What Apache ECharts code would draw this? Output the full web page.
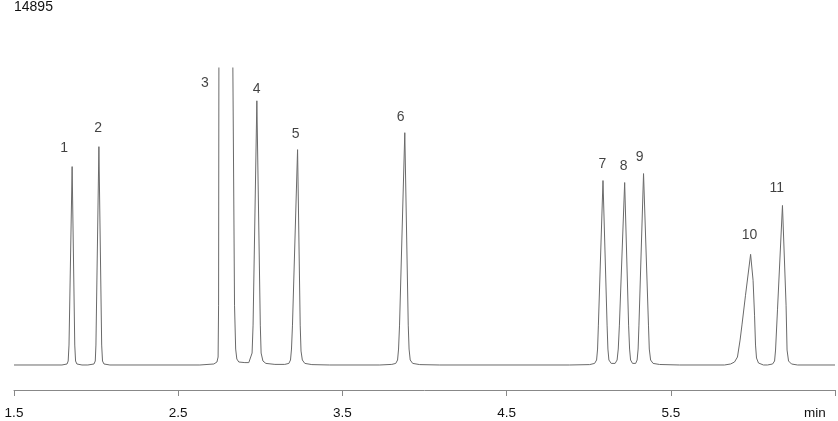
<!DOCTYPE html>
<html>
<head>
<meta charset="utf-8">
<script src="https://cdn.jsdelivr.net/npm/echarts@6/dist/echarts.min.js"></script>
<style>
html,body{margin:0;padding:0;background:#fff;}
#chart{width:838px;height:421px;}
</style>
</head>
<body>
<div id="chart"></div>
<script>
// Retention time axis (min)
const traceTime = [
  1.500,
  1.792,1.823,1.830,1.835,1.854,1.870,1.875,1.883,1.914,
  1.950,1.987,1.995,1.999,2.017,2.034,2.039,2.048,2.084,
  2.632,2.717,2.736,2.743,2.746,2.748,2.790,2.832,2.843,2.850,2.857,2.869,2.906,
  2.930,2.942,2.950,2.956,2.979,3.000,3.005,3.016,3.034,3.089,
  3.149,3.174,3.184,3.190,3.196,3.227,3.243,3.248,3.256,3.271,3.314,3.423,
  3.728,3.801,3.825,3.836,3.842,3.848,3.880,3.901,3.906,3.913,3.928,3.971,4.093,
  4.884,5.006,5.036,5.048,5.054,5.059,5.087,5.112,5.117,5.123,5.137,5.149,
  5.161,5.173,5.180,5.187,5.219,5.243,5.249,5.255,5.267,5.277,
  5.286,5.295,5.301,5.306,5.334,5.364,5.369,5.377,5.392,5.432,5.554,
  5.827,5.864,5.888,5.906,5.922,5.934,5.955,5.986,6.001,6.010,6.016,6.022,6.034,6.064,
  6.089,6.120,6.132,6.138,6.150,6.180,6.202,6.208,6.217,6.235,6.272,
  6.500
];
// Detector signal
const traceSignal = [
  0,
  0,50,200,1000,9950,1000,200,50,0,
  0,50,200,1000,10950,1000,200,50,0,
  0,50,150,400,3000,16000,60000,16000,3000,800,300,150,120,
  120,200,600,2000,13250,2000,600,200,80,30,
  30,80,250,800,2000,10800,2000,700,250,80,20,0,
  0,30,80,250,800,2000,11650,2000,800,250,80,20,0,
  0,20,80,250,800,2000,9250,2000,800,250,80,40,
  80,250,800,2000,9150,2000,800,250,80,50,
  80,250,800,2000,9600,2000,800,250,80,25,0,
  0,50,150,400,1250,2050,3500,5550,4250,2500,1000,350,100,0,
  0,50,200,750,2800,8000,3000,750,200,50,0,
  0
];
// Peak labels
const peakNames  = ['1','2','3','4','5','6','7','8','9','10','11'];
const labelTime  = [1.806,2.013,2.663,2.977,3.216,3.854,5.083,5.213,5.310,5.980,6.146];
const labelSignal= [10870,11870,14130,13830,11590,12450,10080,9980,10420,6520,8860];
// Axis
const xMin = 1.5, xMax = 6.5, xStep = 1;
const yMin = -1254, yMax = 14895;
const yMaxLabel = '14895';
const xUnit = 'min';

const trace = traceTime.map((t, i) => [t, traceSignal[i]]);
const labels = labelTime.map((t, i) => [t, labelSignal[i], peakNames[i]]);

const chart = echarts.init(document.getElementById('chart'), null, {renderer: 'canvas'});
const font = 'Arial, "Liberation Sans", sans-serif';
chart.setOption({
  animation: false,
  backgroundColor: '#ffffff',
  title: {
    text: yMaxLabel, left: 14, top: 0, padding: 0,
    textStyle: {fontSize: 14, fontWeight: 'normal', color: '#111', fontFamily: font}
  },
  grid: {left: 14, right: 3, top: 68, bottom: 31},
  xAxis: {
    type: 'value', min: xMin, max: xMax, interval: xStep,
    axisLine: {show: true, onZero: false, lineStyle: {color: '#888', width: 1}},
    axisTick: {show: true, length: 6, lineStyle: {color: '#888'}},
    splitLine: {show: false},
    axisLabel: {
      margin: 16, color: '#111', fontSize: 13.5, fontFamily: font,
      showMinLabel: true, showMaxLabel: true,
      formatter: v => Math.abs(v - xMax) < 1e-6 ? '{m|' + xUnit + '}' : v.toFixed(1),
      rich: {m: {fontSize: 13.5, color: '#111', fontFamily: font, padding: [0, 40, 0, 0]}}
    }
  },
  yAxis: {
    type: 'value', min: yMin, max: yMax, show: false
  },
  series: [
    {
      type: 'line', data: trace, showSymbol: false, clip: true,
      lineStyle: {color: '#6a6a6a', width: 1}, silent: true
    },
    {
      type: 'scatter', data: labels, symbolSize: 1,
      itemStyle: {color: 'rgba(0,0,0,0)'}, silent: true,
      label: {
        show: true, position: 'inside', color: '#111', fontSize: 14, fontFamily: font,
        formatter: p => p.data[2]
      }
    }
  ]
});
</script>
</body>
</html>
